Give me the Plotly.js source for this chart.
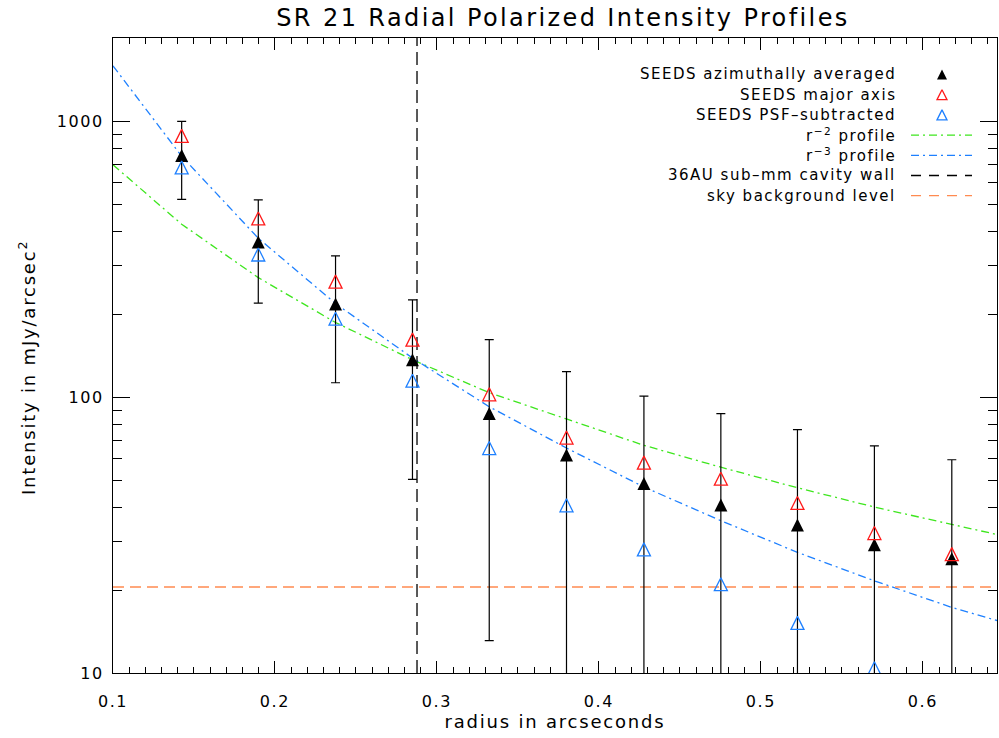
<!DOCTYPE html>
<html><head><meta charset="utf-8">
<script src="https://cdn.plot.ly/plotly-3.0.1.min.js"></script>
<style>html,body{margin:0;padding:0;background:#fff}#chart{width:999px;height:738px}
text{letter-spacing:0.1em}</style>
</head><body><div id="chart"></div><script>
// ---- data ----
const radius    = [0.1424,0.1897,0.2374,0.2849,0.3323,0.3800,0.4278,0.4753,0.5226,0.5701,0.6179];
const azimAvg   = [755,366,218,137,87.5,61.8,48.7,40.7,34.4,29.2,26.0];
const azimHigh  = [1003,521,326,226,162,124,101,87.3,76.4,66.7,59.4];
const azimLow   = [523,220,113,50.4,13.1,5,5,5,5,5,5];
const majorAxis = [889,446,263,162,102.6,71.5,58.0,50.7,41.4,32.2,27.0];
const psfSub    = [683,330,193,115,65.5,40.6,28.1,21.0,15.2,10.4,null];
const profileR  = [0.1,0.1424,0.1897,0.2374,0.2849,0.3323,0.3800,0.4278,0.4753,0.5226,0.5701,0.6179,0.6458];
const profileR2 = [698,425,272,187,137,104,83.5,67,55.8,47,40,34.5,31.8];
const profileR3 = [1596,750,378,219,139,92.5,65.5,47.3,35.7,27.4,21.6,17.3,15.5];
const cavityR   = 0.2877;
const skyLevel  = 20.5;
const xRange    = [0.1, 0.6458];
const yRangeVal = [10, 2014];
const legendLabels = ['SEEDS azimuthally averaged','SEEDS major axis','SEEDS PSF\u2013subtracted',
  'r<sup>\u22122</sup> profile','r<sup>\u22123</sup> profile','36AU sub\u2013mm cavity wall','sky background level'];

// ---- styles ----
const FONT = 'DejaVu Sans';
const BLACK='#000000', RED='#ff1a1a', BLUE='#1e80ff', GREEN='#3ee61e', ORANGE='#ff8a50';
const DASHDOT='8px,4px,2px,4px';
const TRI = 13;
// upward triangle drawn as a rotated arrow, centred on the point
const triMarker = (color, open, size) => ({symbol: open ? 'arrow-down-open' : 'arrow-down', angle:180,
  size:size, standoff:size/2, color:color, line:{width: open ? 1.3 : 0, color:color}});

const traces = [];
traces.push({x:profileR, y:profileR2, mode:'lines', line:{color:GREEN,width:1.3,dash:DASHDOT}, hoverinfo:'skip'});
traces.push({x:profileR, y:profileR3, mode:'lines', line:{color:BLUE,width:1.3,dash:DASHDOT}, hoverinfo:'skip'});
traces.push({x:[cavityR,cavityR], y:yRangeVal, mode:'lines', line:{color:BLACK,width:1.3,dash:'13px,6px'}, hoverinfo:'skip'});
traces.push({x:xRange, y:[skyLevel,skyLevel], mode:'lines', line:{color:ORANGE,width:1.5,dash:'11px,6px'}, hoverinfo:'skip'});
traces.push({x:radius, y:azimAvg, mode:'markers', marker:triMarker(BLACK,false,TRI),
  error_y:{type:'data', symmetric:false,
    array: azimHigh.map((h,i)=>h-azimAvg[i]),
    arrayminus: azimLow.map((l,i)=>azimAvg[i]-l),
    color:BLACK, thickness:1.2, width:4.5}});
traces.push({x:radius, y:majorAxis, mode:'markers', marker:triMarker(RED,true,TRI)});
traces.push({x:radius, y:psfSub, mode:'markers', marker:triMarker(BLUE,true,TRI)});

// ---- legend (text left, sample right) ----
const L = {l:113, t:38, w:884, h:635};
const px2x = p => (p - L.l)/L.w;
const py2y = p => (L.t + L.h - p)/L.h;
const rowY = i => 74.5 + i*20.2;
const annotations = [];
legendLabels.forEach((t,i)=>{
  annotations.push({xref:'paper', yref:'paper', x:px2x(898), y:py2y(rowY(i)), xanchor:'right', yanchor:'middle',
    text:t, showarrow:false, font:{size:15, family:FONT, color:BLACK}});
});
const legMarks = [[BLACK,false],[RED,true],[BLUE,true]];
legMarks.forEach((m,i)=>{
  traces.push({x:[px2x(942)], y:[py2y(rowY(i))], xaxis:'x2', yaxis:'y2', mode:'markers',
    marker:triMarker(m[0],m[1],10), hoverinfo:'skip'});
});
const legLines = [[GREEN,DASHDOT],[BLUE,DASHDOT],[BLACK,'10px,8px'],[ORANGE,'10px,8px']];
legLines.forEach((m,i)=>{
  const yy = py2y(rowY(i+3));
  traces.push({x:[px2x(911),px2x(972)], y:[yy,yy], xaxis:'x2', yaxis:'y2', mode:'lines',
    line:{color:m[0], width:1.3, dash:m[1]}, hoverinfo:'skip'});
});
// y title
annotations.push({xref:'paper', yref:'paper', x:px2x(27), y:py2y(368), xanchor:'center', yanchor:'middle',
  textangle:-90, text:'Intensity in mJy/arcsec<sup>2</sup>', showarrow:false, font:{size:18, family:FONT, color:BLACK}});

const layout = {
  width:999, height:738,
  margin:{l:113, r:2, t:38, b:65, pad:0},
  paper_bgcolor:'white', plot_bgcolor:'white',
  font:{family:FONT, color:BLACK, size:16},
  showlegend:false, hovermode:false,
  title:{text:'SR 21 Radial Polarized Intensity Profiles', x:563/999, xanchor:'center', xref:'container',
    y:1-18/738, yanchor:'middle', yref:'container', font:{size:24, family:FONT, color:BLACK}},
  xaxis:{range:xRange, tick0:0.1, dtick:0.1, tickformat:'.1f', ticks:'inside', ticklen:12, tickwidth:1, tickcolor:BLACK,
    showline:true, linecolor:BLACK, linewidth:1, mirror:'ticks', showgrid:false, zeroline:false,
    tickfont:{size:16}, ticklabelstandoff:14,
    minor:{dtick:0.01, ticks:'inside', ticklen:6, tickwidth:1, tickcolor:BLACK, showgrid:false},
    title:{text:'radius in arcseconds', font:{size:18}, standoff:1}},
  yaxis:{type:'log', range:[Math.log10(yRangeVal[0]), Math.log10(yRangeVal[1])], dtick:1, exponentformat:'none', separatethousands:false,
    ticks:'inside', ticklen:17, tickwidth:1, tickcolor:BLACK,
    showline:true, linecolor:BLACK, linewidth:1, mirror:'ticks', showgrid:false, zeroline:false,
    tickfont:{size:16}, ticklabelstandoff:5,
    minor:{dtick:'D1', ticks:'inside', ticklen:9, tickwidth:1, tickcolor:BLACK, showgrid:false}},
  xaxis2:{overlaying:'x', anchor:'y2', range:[0,1], visible:false, fixedrange:true},
  yaxis2:{overlaying:'y', anchor:'x2', range:[0,1], visible:false, fixedrange:true},
  annotations:annotations
};
Plotly.newPlot('chart', traces, layout, {displayModeBar:false, staticPlot:true});
</script></body></html>
